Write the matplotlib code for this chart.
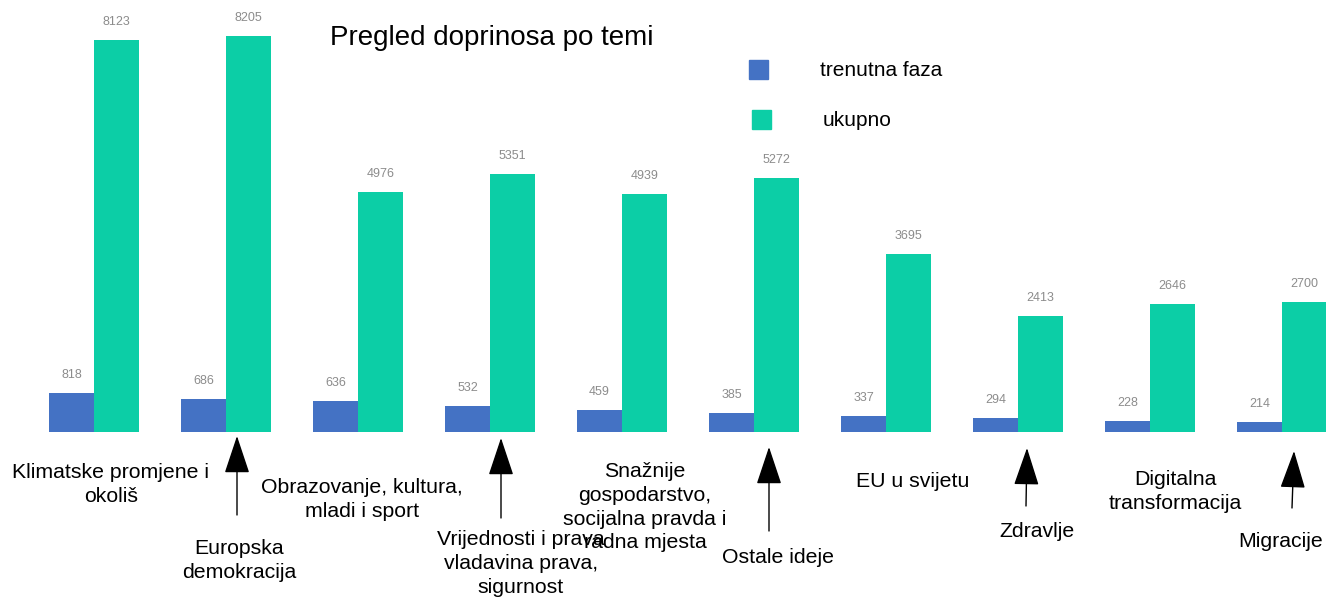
import matplotlib.pyplot as plt
from matplotlib.patches import Rectangle

plt.rcParams['font.family'] = ['Liberation Sans', 'DejaVu Sans']

# data
topics = ["Klimatske promjene i\nokoliš", "Europska\ndemokracija",
          "Obrazovanje, kultura,\nmladi i sport",
          "Vrijednosti i prava\nvladavina prava,\nsigurnost",
          "Snažnije\ngospodarstvo,\nsocijalna pravda i\nradna mjesta",
          "Ostale ideje", "EU u svijetu", "Zdravlje",
          "Digitalna\ntransformacija", "Migracije"]
current = [818, 686, 636, 532, 459, 385, 337, 294, 228, 214]
total = [8123, 8205, 4976, 5351, 4939, 5272, 3695, 2413, 2646, 2700]
series_names = ["trenutna faza", "ukupno"]

blue = "#4472C4"
green = "#0CCEA6"

W, H = 1326, 598
fig = plt.figure(figsize=(W / 100, H / 100), dpi=100)
base_px = 432  # y pixel of bar baseline
ax = fig.add_axes([0, (H - base_px) / H, 1, base_px / H])
ax.set_xlim(-94 / 132, (W - 94) / 132)
ax.set_ylim(0, base_px / 0.04826)
ax.axis("off")

bw = 45 / 132
xs = list(range(len(topics)))
ax.bar([x - bw / 2 for x in xs], current, bw, color=blue)
ax.bar([x + bw / 2 for x in xs], total, bw, color=green)

for x, c, t in zip(xs, current, total):
    ax.annotate(str(c), (x - bw / 2, c), xytext=(0, 18), textcoords="offset pixels",
                ha="center", va="center", fontsize=9, color="#8c8c8c")
    ax.annotate(str(t), (x + bw / 2, t), xytext=(0, 18), textcoords="offset pixels",
                ha="center", va="center", fontsize=9, color="#8c8c8c")


def yfrac(p):
    return (base_px - p) / base_px


# category labels: (x offset px from group centre, y px of first line)
label_layout = [(17, 471), (13, 547), (4, 486), (31, 538), (23, 470),
                (24, 556), (27, 480), (19, 530), (25, 478), (-1, 540)]
for x, name, (dx, y0) in zip(xs, topics, label_layout):
    ax.text(x + dx / 132, yfrac(y0 - 8), name, ha="center", va="top",
            fontsize=15.3, linespacing=1.32, clip_on=False,
            transform=ax.get_xaxis_transform())

# arrows under every second group: (dx tip, tip y, dx tail, tail y)
arrow_layout = {1: (11, 436, 11, 515), 3: (11, 438, 11, 518), 5: (15, 447, 15, 531),
                7: (9, 448, 8, 506), 9: (12, 451, 10, 508)}
for i, (dxt, yt, dxb, yb) in arrow_layout.items():
    ax.annotate("", xy=(i + dxt / 132, yfrac(yt)), xytext=(i + dxb / 132, yfrac(yb)),
                xycoords=("data", "axes fraction"), textcoords=("data", "axes fraction"),
                arrowprops=dict(arrowstyle="-|>,head_length=1.2,head_width=0.4",
                                mutation_scale=20, color="black", lw=1,
                                shrinkA=0, shrinkB=0))

fig.text(492 / W, 1 - 38 / H, "Pregled doprinosa po temi", ha="center", va="center",
         fontsize=20)

# legend
for k, (name, col) in enumerate(zip(series_names, [blue, green])):
    y = 69 + 50 * k
    fig.patches.append(Rectangle(((749 + 3 * k) / W, 1 - (y + 10) / H), 19 / W, 19 / H,
                                 transform=fig.transFigure, color=col))
    fig.text((820 + 3 * k) / W, 1 - (y + 2) / H, name, ha="left", va="center", fontsize=15)

fig.savefig("out.png", dpi=100)
